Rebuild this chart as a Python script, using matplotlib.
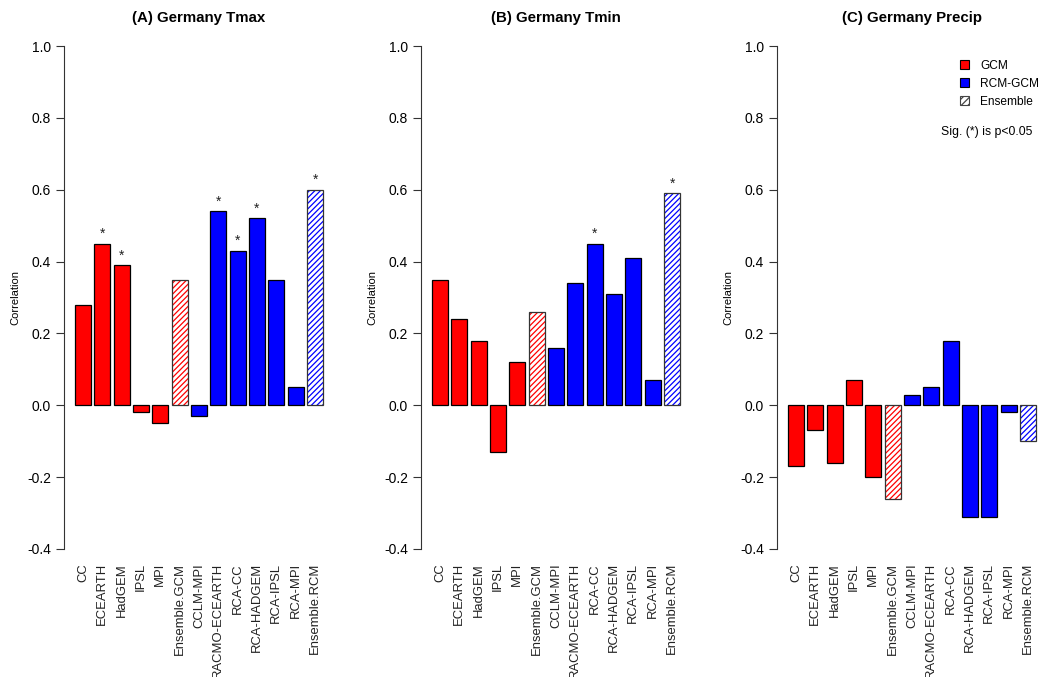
import matplotlib
matplotlib.use("Agg")
import matplotlib.pyplot as plt
from matplotlib.patches import Patch
import numpy as np

plt.rcParams['font.family'] = ['Liberation Sans', 'DejaVu Sans']
plt.rcParams['hatch.linewidth'] = 0.9

models = ["CC", "ECEARTH", "HadGEM", "IPSL", "MPI", "Ensemble.GCM",
          "CCLM-MPI", "RACMO-ECEARTH", "RCA-CC", "RCA-HADGEM", "RCA-IPSL",
          "RCA-MPI", "Ensemble.RCM"]
groups = ["GCM"] * 5 + ["EnsGCM"] + ["RCM"] * 6 + ["EnsRCM"]

tmax = [0.28, 0.45, 0.39, -0.02, -0.05, 0.35, -0.03, 0.54, 0.43, 0.52, 0.35, 0.05, 0.60]
tmax_sig = [0, 1, 1, 0, 0, 0, 0, 1, 1, 1, 0, 0, 1]
tmin = [0.35, 0.24, 0.18, -0.13, 0.12, 0.26, 0.16, 0.34, 0.45, 0.31, 0.41, 0.07, 0.59]
tmin_sig = [0, 0, 0, 0, 0, 0, 0, 0, 1, 0, 0, 0, 1]
prec = [-0.17, -0.07, -0.16, 0.07, -0.20, -0.26, 0.03, 0.05, 0.18, -0.31, -0.31, -0.02, -0.10]
prec_sig = [0] * 13

titles = ["(A) Germany Tmax", "(B) Germany Tmin", "(C) Germany Precip"]
yticks = [-0.4, -0.2, 0.0, 0.2, 0.4, 0.6, 0.8, 1.0]

W, H = 1043, 677
fig = plt.figure(figsize=(W / 100, H / 100), dpi=100)

lefts = [65, 422, 778]
pw = 268
top_px, bot_px = 46, 549

x = 0.7 + 1.2 * np.arange(len(models))
data = [(tmax, tmax_sig), (tmin, tmin_sig), (prec, prec_sig)]

for k, ((vals, sig), ttl) in enumerate(zip(data, titles)):
    ax = fig.add_axes([lefts[k] / W, (H - bot_px) / H, pw / W, (bot_px - top_px) / H])
    for xi, v, g in zip(x, vals, groups):
        if g in ("GCM", "RCM"):
            c = "red" if g == "GCM" else "blue"
            ax.bar(xi, v, width=1.0, color=c, edgecolor="black", linewidth=0.9)
        else:
            c = "red" if g == "EnsGCM" else "blue"
            ax.bar(xi, v, width=1.0, color="white", edgecolor=c, hatch="//////", linewidth=0)
            ax.bar(xi, v, width=1.0, fill=False, edgecolor="#333333", linewidth=0.9)
    for xi, v, s in zip(x, vals, sig):
        if s:
            ax.text(xi, v + 0.008, "*", ha="center", va="bottom", fontsize=10, color="#222222")
    ax.set_xlim(-0.416, 16.216)
    ax.set_ylim(-0.4, 1.0)
    ax.set_xticks(x)
    ax.set_xticklabels(models, rotation=90, fontsize=9.4, color="#222222")
    ax.tick_params(axis="x", length=0, pad=10)
    ax.set_yticks(yticks)
    ax.set_yticklabels([f"{t:.1f}" for t in yticks], fontsize=8, color="#222222")
    ax.tick_params(axis="y", length=6, width=0.8, pad=3, color="#333333")
    for sp in ["top", "right", "bottom"]:
        ax.spines[sp].set_visible(False)
    ax.spines["left"].set_linewidth(0.8)
    ax.spines["left"].set_color("#333333")
    ax.spines["left"].set_position(("outward", 1))
    ax.set_ylabel("Correlation", fontsize=8, labelpad=5)
    ax.set_title(ttl, fontsize=10.8, fontweight="bold", pad=17)
    if k == 2:
        handles = [Patch(facecolor="red", edgecolor="black", linewidth=0.8),
                   Patch(facecolor="blue", edgecolor="black", linewidth=0.8),
                   Patch(facecolor="white", edgecolor="#444444", hatch="/////", linewidth=0.8)]
        fig.legend(handles, ["GCM", "RCM-GCM", "Ensemble"], loc="upper left",
                   bbox_to_anchor=(955 / W, 1 - 55 / H), frameon=False,
                   fontsize=8.6, handlelength=0.8, handleheight=0.8,
                   handletextpad=0.9, labelspacing=0.5, borderaxespad=0)
        fig.text(987 / W, 1 - 132 / H, "Sig. (*) is p<0.05", ha="center", va="center", fontsize=8.8)

fig.savefig("out.png", dpi=100)
